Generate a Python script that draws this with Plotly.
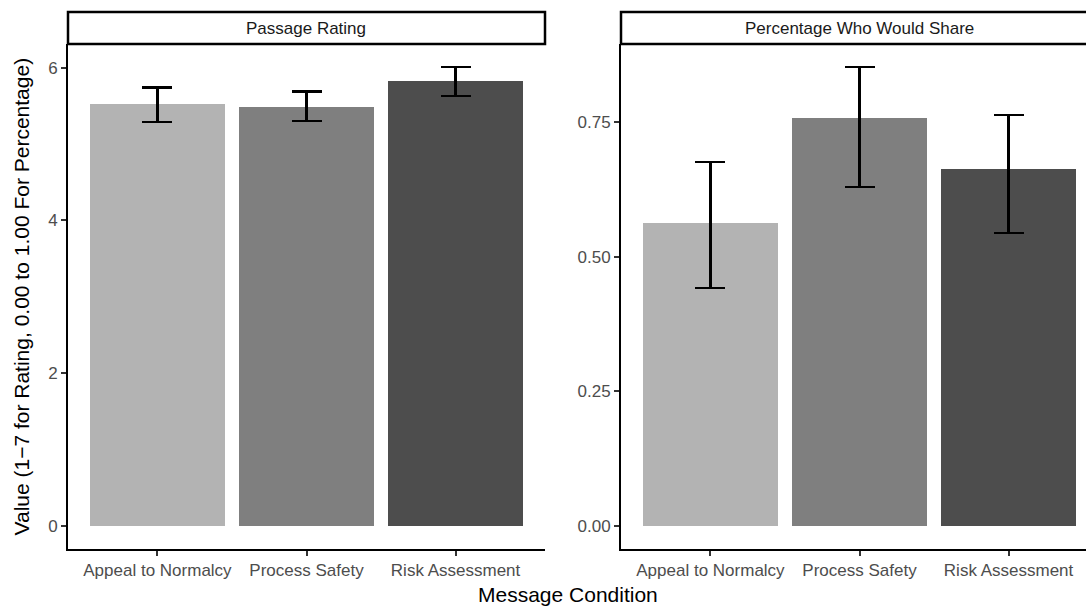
import plotly.graph_objects as go

W, H = 1086, 614

categories = ["Appeal to Normalcy", "Process Safety", "Risk Assessment"]
bar_colors = ["#B3B3B3", "#7F7F7F", "#4D4D4D"]

rating_mean = [5.52, 5.49, 5.82]
rating_low = [5.29, 5.30, 5.63]
rating_high = [5.74, 5.69, 6.01]

share_mean = [0.563, 0.758, 0.664]
share_low = [0.442, 0.630, 0.545]
share_high = [0.676, 0.853, 0.764]

panel_titles = ["Passage Rating", "Percentage Who Would Share"]
y_ticks_rating = [0, 2, 4, 6]
y_ticks_share = [0.00, 0.25, 0.50, 0.75]
y_tick_text_share = ["0.00", "0.25", "0.50", "0.75"]

FONT = "Liberation Sans, Arial, Helvetica, sans-serif"


def px_x(p):
    return p / W


def px_y(p):
    return 1 - p / H


fig = go.Figure()

for mean, low, high, xa, ya in [
    (rating_mean, rating_low, rating_high, "x", "y"),
    (share_mean, share_low, share_high, "x2", "y2"),
]:
    fig.add_trace(go.Bar(
        x=categories, y=mean, width=0.9,
        marker=dict(color=bar_colors, line=dict(width=0)),
        error_y=dict(type="data", symmetric=False,
                     array=[h - m for h, m in zip(high, mean)],
                     arrayminus=[m - l for m, l in zip(mean, low)],
                     color="black", thickness=2.2, width=15),
        xaxis=xa, yaxis=ya, showlegend=False, hoverinfo="skip",
    ))

# panel geometry (pixels)
L1, R1 = 68, 545
L2 = 621
TOP, BOT = 44, 549
unit = (R1 - L1) / 3.2
r2_max = -0.6 + (W - L2) / unit

axis_common = dict(
    showline=True, linecolor="black", linewidth=2,
    ticks="outside", ticklen=5, tickwidth=2, tickcolor="#333333",
    tickfont=dict(family=FONT, size=17, color="#4D4D4D"),
    showgrid=False, zeroline=False, fixedrange=True,
)

r_max = max(rating_high)
s_max = max(share_high)

fig.update_layout(
    width=W, height=H,
    margin=dict(l=0, r=0, t=0, b=0),
    paper_bgcolor="white", plot_bgcolor="white",
    bargap=0,
    xaxis=dict(domain=[px_x(L1), px_x(R1)], range=[-0.6, 2.6], type="category",
               anchor="y", **axis_common),
    yaxis=dict(domain=[px_y(BOT), px_y(TOP)], range=[-0.05 * r_max, 1.05 * r_max],
               tickvals=y_ticks_rating, anchor="x", **axis_common),
    xaxis2=dict(domain=[px_x(L2), 1.0], range=[-0.6, r2_max], type="category",
                anchor="y2", **axis_common),
    yaxis2=dict(domain=[px_y(BOT), px_y(TOP)], range=[-0.05 * s_max, 1.05 * s_max],
                tickvals=y_ticks_share, ticktext=y_tick_text_share, anchor="x2",
                **axis_common),
)

# strips
STRIP_TOP = 12
for (l, r), title in zip([(L1, R1), (L2, W + 10)], panel_titles):
    fig.add_shape(type="rect", xref="paper", yref="paper",
                  x0=px_x(l), x1=px_x(r), y0=px_y(TOP), y1=px_y(STRIP_TOP),
                  line=dict(color="black", width=2.5), fillcolor="white", layer="above")
    cx = (l + L2 + (R1 - L1)) / 2 if l == L2 else (l + r) / 2
    fig.add_annotation(xref="paper", yref="paper", x=px_x(cx), y=px_y((TOP + STRIP_TOP) / 2),
                       text=title, showarrow=False, xanchor="center", yanchor="middle",
                       font=dict(family=FONT, size=17, color="#1A1A1A"))

# axis titles
fig.add_annotation(xref="paper", yref="paper", x=px_x(568), y=px_y(594),
                   text="Message Condition", showarrow=False,
                   xanchor="center", yanchor="middle",
                   font=dict(family=FONT, size=21, color="black"))
fig.add_annotation(xref="paper", yref="paper", x=px_x(21), y=px_y((TOP + BOT) / 2),
                   text="Value (1\u22127 for Rating, 0.00 to 1.00 For Percentage)",
                   showarrow=False, textangle=-90,
                   xanchor="center", yanchor="middle",
                   font=dict(family=FONT, size=21, color="black"))

fig.write_html("out.html", config={"displayModeBar": False, "staticPlot": True},
               post_script="document.body.style.margin='0';document.body.style.overflow='hidden';")
